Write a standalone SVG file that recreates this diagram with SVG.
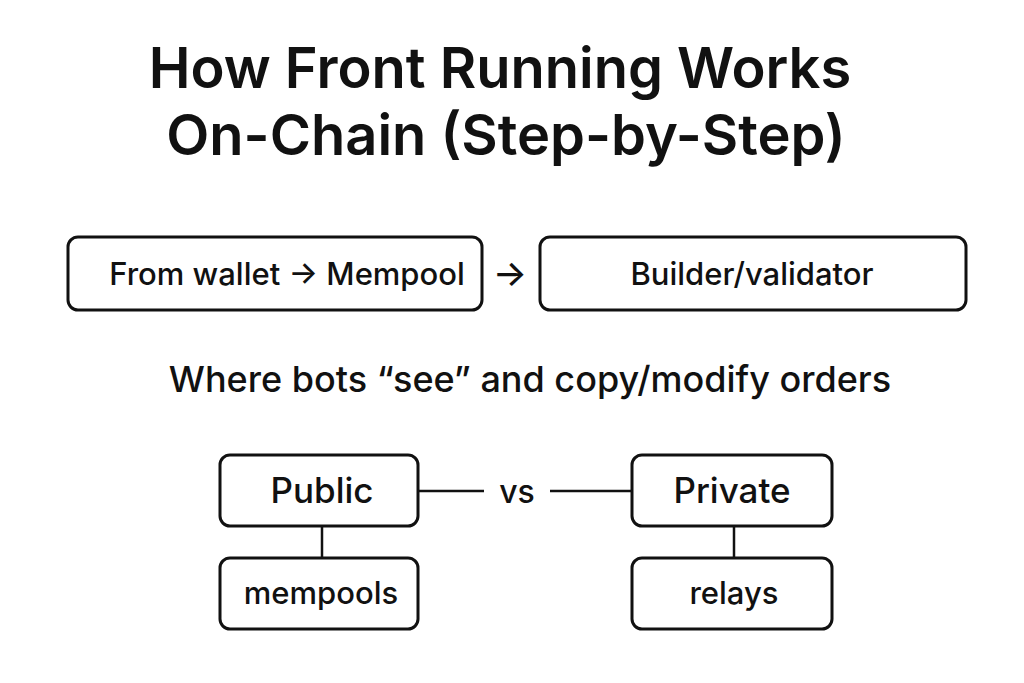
<svg xmlns="http://www.w3.org/2000/svg" width="1024" height="683" viewBox="0 0 1024 683">
<style>
text{font-family:Inter,"Liberation Sans",sans-serif;fill:#111;text-anchor:middle}
.box{fill:#fff;stroke:#111;stroke-width:3}
.t{font-size:31px;font-weight:500}
.c{stroke:#111;stroke-width:2.5;fill:none}
</style>
<rect width="1024" height="683" fill="#fff"/>
<text x="500" y="88" font-size="56" font-weight="600">How Front Running Works</text>
<text x="506" y="155" font-size="56" font-weight="600">On-Chain (Step-by-Step)</text>
<g id="wallet"><rect class="box" x="68" y="237" width="414" height="73" rx="10"/><text class="t" x="287" y="285">From wallet → Mempool</text></g>
<g id="builder"><rect class="box" x="540" y="237" width="426" height="73" rx="10"/><text class="t" x="752" y="285">Builder/validator</text></g>
<text x="530" y="392" font-size="36" font-weight="500">Where bots “see” and copy/modify orders</text>
<g id="public"><rect class="box" x="220" y="455" width="198" height="71" rx="10"/><text x="322" y="503" font-size="35" font-weight="500">Public</text></g>
<g id="mempools"><rect class="box" x="220" y="558" width="198" height="71" rx="10"/><text class="t" x="321" y="604" font-size="33">mempools</text></g>
<g id="private"><rect class="box" x="632" y="455" width="200" height="71" rx="10"/><text x="732" y="503" font-size="35" font-weight="500">Private</text></g>
<g id="relays"><rect class="box" x="632" y="558" width="200" height="71" rx="10"/><text class="t" x="734" y="604" font-size="33">relays</text></g>
<g id="connectors">
<text x="510" y="286" font-size="36" font-weight="500">→</text>
<line class="c" x1="322" y1="526" x2="322" y2="558"/>
<line class="c" x1="734" y1="526" x2="734" y2="558"/>
<line class="c" x1="418" y1="491" x2="484" y2="491"/>
<line class="c" x1="550" y1="491" x2="632" y2="491"/>
<text x="517" y="503" font-size="32" font-weight="500">vs</text>
</g>
</svg>
